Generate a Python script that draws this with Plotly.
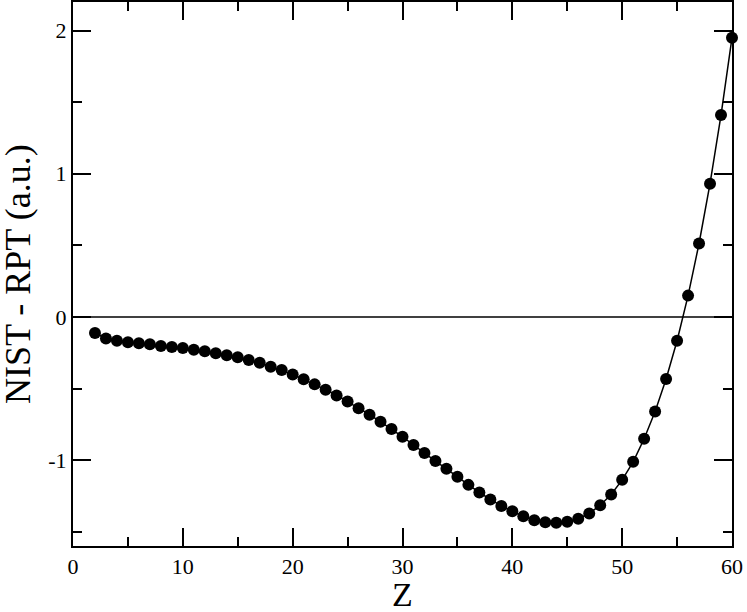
import plotly.graph_objects as go

Z = list(range(2, 61))
diff = [-0.112, -0.150, -0.166, -0.177, -0.184, -0.190, -0.203, -0.210, -0.217, -0.229,
        -0.240, -0.254, -0.268, -0.282, -0.301, -0.320, -0.348, -0.371, -0.402, -0.436,
        -0.471, -0.508, -0.548, -0.590, -0.637, -0.683, -0.732, -0.783, -0.837, -0.895,
        -0.951, -1.007, -1.061, -1.117, -1.173, -1.227, -1.275, -1.320, -1.358, -1.392,
        -1.420, -1.434, -1.438, -1.431, -1.410, -1.373, -1.315, -1.240, -1.138, -1.012,
        -0.851, -0.660, -0.434, -0.166, 0.149, 0.513, 0.931, 1.410, 1.951]

x_ticks = [0, 10, 20, 30, 40, 50, 60]
y_ticks = [-1, 0, 1, 2]
y_tick_labels = ["-1", "0", "1", "2"]
x_title = "Z"
y_title = "NIST - RPT (a.u.)"

FONT = "Liberation Serif"

fig = go.Figure()
fig.add_trace(go.Scatter(
    x=Z, y=diff, mode="lines+markers",
    line=dict(color="black", width=1.5),
    marker=dict(color="black", size=12, symbol="circle"),
    cliponaxis=False, showlegend=False,
))

fig.add_shape(type="line", xref="paper", x0=0, x1=1, yref="y", y0=0, y1=0,
              line=dict(color="black", width=1.5), layer="below")

axis_common = dict(
    showline=True, linecolor="black", linewidth=2, mirror="ticks",
    ticks="inside", ticklen=18, tickwidth=2, tickcolor="black",
    showgrid=False, zeroline=False, automargin=False,
    tickfont=dict(family=FONT, size=22, color="black"),
)

fig.update_xaxes(
    range=[0, 60], tickvals=x_ticks,
    minor=dict(ticks="inside", ticklen=9, tickwidth=2, tickcolor="black", dtick=5, tick0=0, showgrid=False),
    **axis_common,
)
fig.update_yaxes(
    range=[-1.6, 2.2], tickvals=y_ticks, ticktext=y_tick_labels,
    minor=dict(ticks="inside", ticklen=9, tickwidth=2, tickcolor="black", dtick=0.5, tick0=0, showgrid=False),
    **axis_common,
)

fig.add_annotation(
    text=x_title, xref="paper", yref="paper", x=0.5, y=0,
    xanchor="center", yanchor="top", yshift=-28, showarrow=False,
    font=dict(family=FONT, size=34, color="black"),
)
fig.add_annotation(
    text=y_title, xref="paper", yref="paper", x=0, y=0.5,
    xanchor="center", yanchor="middle", xshift=-55, textangle=-90, showarrow=False,
    font=dict(family=FONT, size=36, color="black"),
)

fig.update_layout(
    width=747, height=612, autosize=False,
    margin=dict(l=73, r=15, t=2, b=66),
    plot_bgcolor="white", paper_bgcolor="white",
    font=dict(family=FONT, color="black"),
)

fig.write_html("out.html", config={"displayModeBar": False},
               post_script="document.body.style.margin='0';document.body.style.padding='0';")
